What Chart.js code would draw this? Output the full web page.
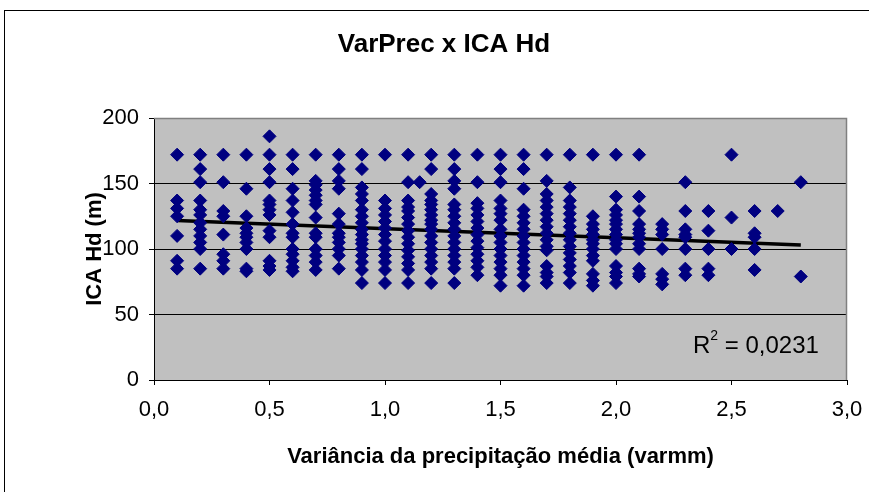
<!DOCTYPE html>
<html>
<head>
<meta charset="utf-8">
<script src="https://cdn.jsdelivr.net/npm/chart.js@4.4.1/dist/chart.umd.min.js"></script>
<style>
  html, body { margin: 0; padding: 0; background: #fff; }
  #wrap { width: 869px; height: 492px; }
</style>
</head>
<body>
<div id="wrap"><canvas id="scatterChart" width="869" height="492"></canvas></div>
<script>
// variância da precipitação média (varmm) per column of points
const varmm = [0.1, 0.2, 0.3, 0.4, 0.5, 0.6, 0.7, 0.8, 0.9, 1.0, 1.1, 1.15, 1.2, 1.3,
               1.4, 1.5, 1.6, 1.7, 1.8, 1.9, 2.0, 2.1, 2.2, 2.3, 2.4, 2.5, 2.6, 2.7, 2.8];
// ICA Hd (m) values read for each varmm column
const icaHd = [
    [172, 137, 131, 125, 110, 91, 85],
    [172, 161, 151, 137, 130, 126, 120, 115, 110, 105, 100, 85],
    [172, 151, 129, 125, 111, 96, 91, 85],
    [172, 146, 125, 116, 112, 109, 105, 100, 85, 83],
    [186, 172, 161, 151, 137, 134, 130, 126, 114, 109, 91, 87, 84],
    [172, 161, 146, 137, 128, 119, 112, 109, 100, 96, 91, 86, 83],
    [172, 152, 149, 145, 141, 137, 134, 124, 112, 109, 100, 95, 90, 84],
    [172, 161, 152, 146, 127, 119, 112, 109, 105, 100, 95, 85],
    [172, 161, 147, 142, 137, 130, 125, 120, 115, 111, 107, 104, 100, 95, 90, 84, 74],
    [172, 137, 131, 126, 121, 116, 111, 106, 100, 95, 90, 84, 74],
    [172, 151, 137, 132, 129, 124, 119, 114, 109, 104, 99, 94, 89, 84, 74],
    [151],
    [172, 161, 142, 137, 134, 130, 126, 122, 119, 115, 110, 105, 100, 95, 90, 85, 74],
    [172, 161, 152, 146, 134, 130, 125, 120, 115, 110, 105, 100, 95, 90, 85, 74],
    [172, 151, 135, 131, 126, 121, 116, 111, 106, 101, 96, 91, 86, 80],
    [172, 161, 151, 137, 131, 127, 122, 115, 110, 105, 100, 95, 90, 85, 80, 72],
    [172, 161, 146, 130, 125, 120, 115, 110, 105, 100, 95, 90, 85, 80, 72],
    [172, 152, 142, 137, 132, 127, 122, 117, 112, 107, 102, 99, 87, 82, 79, 74],
    [172, 147, 137, 132, 127, 122, 117, 112, 107, 102, 97, 92, 87, 82, 74],
    [172, 125, 119, 115, 111, 107, 104, 100, 95, 91, 81, 76, 72],
    [172, 140, 130, 126, 122, 119, 115, 111, 107, 104, 100, 87, 82, 79, 74],
    [172, 140, 129, 119, 115, 112, 109, 104, 100, 85, 81, 79],
    [119, 115, 111, 100, 81, 77, 73],
    [151, 129, 115, 111, 109, 100, 85, 80],
    [129, 114, 100, 85, 80],
    [172, 124, 100],
    [129, 112, 109, 100, 84],
    [129],
    [151, 79]
];
// linear trendline ends, as drawn in the picture
const trendX = [0.1, 2.8];
const trendY = [121.7, 103];
const rSquared = '0,0231';

const points = [];
varmm.forEach((x, i) => icaHd[i].forEach(y => points.push({x: x, y: y})));
const trend = trendX.map((x, i) => ({x: x, y: trendY[i]}));

const FONT = '"Liberation Sans", Arial, sans-serif';

const decor = {
    id: 'decor',
    beforeDraw(chart) {
        const {ctx, chartArea: a} = chart;
        ctx.save();
        ctx.fillStyle = '#fff';
        ctx.fillRect(0, 0, chart.width, chart.height);
        ctx.strokeStyle = '#000';
        ctx.lineWidth = 1;
        ctx.strokeRect(4.5, 10.5, 900, 600);
        ctx.fillStyle = '#C0C0C0';
        ctx.fillRect(a.left, a.top, a.right - a.left, a.bottom - a.top);
        ctx.restore();
    },
    beforeDatasetsDraw(chart) {
        const {ctx, chartArea: a} = chart;
        ctx.save();
        ctx.strokeStyle = '#808080';
        ctx.lineWidth = 1.5;
        ctx.beginPath();
        ctx.moveTo(a.left, a.top + 0.5);
        ctx.lineTo(a.right - 0.5, a.top + 0.5);
        ctx.lineTo(a.right - 0.5, a.bottom);
        ctx.stroke();
        ctx.restore();
    },
    afterDraw(chart) {
        const {ctx} = chart;
        ctx.save();
        ctx.fillStyle = '#000';
        ctx.textBaseline = 'middle';
        ctx.textAlign = 'center';
        ctx.font = 'bold 26px ' + FONT;
        ctx.fillText('VarPrec x ICA Hd', 444, 45);
        // R² label
        ctx.textAlign = 'left';
        ctx.textBaseline = 'alphabetic';
        ctx.font = '24px ' + FONT;
        let x = 693;
        ctx.fillText('R', x, 353);
        x += ctx.measureText('R').width;
        ctx.font = '14px ' + FONT;
        ctx.fillText('2', x, 340);
        x += ctx.measureText('2').width;
        ctx.font = '24px ' + FONT;
        ctx.fillText(' = ' + rSquared, x, 353);
        ctx.restore();
    }
};

new Chart(document.getElementById('scatterChart'), {
    type: 'scatter',
    data: {
        datasets: [{
            label: 'ICA Hd',
            data: points,
            pointStyle: 'rectRot',
            pointRadius: 6.5,
            pointHoverRadius: 6.5,
            backgroundColor: '#000080',
            borderColor: '#000080',
            borderWidth: 1
        }, {
            type: 'line',
            label: 'Linear',
            data: trend,
            borderColor: '#000',
            borderWidth: 3.5,
            pointRadius: 0,
            fill: false
        }]
    },
    options: {
        responsive: false,
        animation: false,
        layout: { padding: { left: 20, right: 22, top: 118, bottom: 0 } },
        plugins: {
            legend: { display: false },
            title: { display: false },
            tooltip: { enabled: false }
        },
        scales: {
            x: {
                type: 'linear',
                min: 0,
                max: 3,
                afterFit: s => { s.height = 112; s.paddingLeft = 0; s.paddingRight = 0; },
                ticks: {
                    stepSize: 0.5,
                    color: '#000',
                    padding: 12,
                    font: { family: FONT, size: 22 },
                    callback: v => v.toFixed(1).replace('.', ',')
                },
                grid: { drawOnChartArea: false, tickLength: 5, color: '#000' },
                border: { color: '#000', width: 1 },
                title: {
                    display: true,
                    text: 'Variância da precipitação média (varmm)',
                    color: '#000',
                    font: { family: FONT, size: 22, weight: 'bold' },
                    padding: { top: 0, bottom: 22 }
                }
            },
            y: {
                min: 0,
                max: 200,
                afterFit: s => { s.width = 134; s.paddingTop = 0; s.paddingBottom = 0; },
                ticks: {
                    stepSize: 50,
                    color: '#000',
                    padding: 10,
                    font: { family: FONT, size: 22 }
                },
                grid: {
                    tickLength: 5,
                    color: c => c.tick && c.tick.value === 200 ? 'rgba(0,0,0,0)' : '#000',
                    tickColor: '#000'
                },
                border: { color: '#000', width: 1 },
                title: {
                    display: true,
                    text: 'ICA Hd (m)',
                    color: '#000',
                    font: { family: FONT, size: 22, weight: 'bold' },
                    padding: { top: 62, bottom: 0 }
                }
            }
        }
    },
    plugins: [decor]
});
</script>
</body>
</html>
